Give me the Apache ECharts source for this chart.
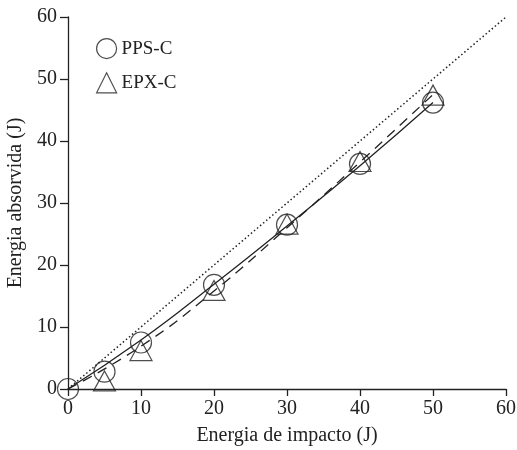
<!DOCTYPE html>
<html lang="es">
<head>
    <meta charset="UTF-8">
    <title>Energia absorvida</title>
    <script src="https://cdn.jsdelivr.net/npm/echarts@6/dist/echarts.min.js"></script>
    <style>
        body { margin: 0; background: #fff; }
        #chart { width: 517px; height: 450px; }
    </style>
</head>
<body>
    <div id="chart"></div>
    <script>
        // valores
        const impacto = [0, 5, 10, 20, 30, 40, 50];
        const ppsC = [0, 2.8, 7.5, 16.8, 26.5, 36.3, 46.2];
        const epxC = [-0.6, 1.3, 6.2, 15.9, 26.6, 36.7, 47.4];

        // curvas de ajuste
        const ajusteX = [0, 10, 20, 30, 40, 50];
        const ajustePPS = [0, 7.9, 16.9, 26.3, 36.0, 46.2];
        const ajusteEPX = [0, 6.9, 15.8, 26.0, 36.6, 47.5];
        const identidad = [[0, 0], [60, 60]];

        const pares = (xs, ys) => xs.map((x, i) => [x, ys[i]]);

        const font = 'Liberation Serif';
        const chart = echarts.init(document.getElementById('chart'));
        chart.setOption({
            animation: false,
            grid: { left: 68, right: 11, top: 17, bottom: 61, outerBoundsMode: 'none' },
            legend: {
                orient: 'vertical',
                left: 91,
                top: 33,
                itemGap: 13,
                itemWidth: 20,
                itemHeight: 20,
                textStyle: { fontFamily: font, fontSize: 19, color: '#222' },
                data: [
                    { name: 'PPS-C', icon: 'circle', itemStyle: { color: 'transparent', borderColor: '#222', borderWidth: 1.2 } },
                    { name: 'EPX-C', icon: 'triangle', itemStyle: { color: 'transparent', borderColor: '#222', borderWidth: 1.2 } }
                ]
            },
            xAxis: {
                type: 'value',
                min: 0, max: 60, interval: 10,
                name: 'Energia de impacto (J)',
                nameLocation: 'middle',
                nameGap: 37,
                nameTextStyle: { fontFamily: font, fontSize: 20, color: '#222' },
                axisLine: { lineStyle: { color: '#222', width: 1.3 } },
                axisTick: { length: 7, lineStyle: { color: '#222', width: 1.3 } },
                axisLabel: { fontFamily: font, fontSize: 20, color: '#222', margin: 10 },
                splitLine: { show: false }
            },
            yAxis: {
                type: 'value',
                min: 0, max: 60, interval: 10,
                name: 'Energia absorvida (J)',
                nameLocation: 'middle',
                nameGap: 41,
                nameTextStyle: { fontFamily: font, fontSize: 20, color: '#222' },
                axisLine: { show: true, lineStyle: { color: '#222', width: 1.3 } },
                axisTick: { show: true, length: 8, lineStyle: { color: '#222', width: 1.3 } },
                axisLabel: { fontFamily: font, fontSize: 20, color: '#222', margin: 11 },
                splitLine: { show: false }
            },
            series: [
                {
                    name: 'identidad',
                    type: 'line',
                    data: identidad,
                    symbol: 'none',
                    lineStyle: { color: '#222', width: 1.5, type: [1.5, 2.5] },
                    z: 1
                },
                {
                    name: 'ajuste PPS',
                    type: 'line',
                    data: pares(ajusteX, ajustePPS),
                    smooth: true,
                    symbol: 'none',
                    lineStyle: { color: '#222', width: 1.3 },
                    z: 2
                },
                {
                    name: 'ajuste EPX',
                    type: 'line',
                    data: pares(ajusteX, ajusteEPX),
                    smooth: true,
                    symbol: 'none',
                    lineStyle: { color: '#222', width: 1.3, type: [10, 7] },
                    z: 2
                },
                {
                    name: 'PPS-C',
                    type: 'scatter',
                    data: pares(impacto, ppsC),
                    symbol: 'circle',
                    symbolSize: 21,
                    itemStyle: { color: 'transparent', borderColor: '#222', borderWidth: 1.2 },
                    z: 3
                },
                {
                    name: 'EPX-C',
                    type: 'scatter',
                    data: pares(impacto, epxC),
                    symbol: 'triangle',
                    symbolSize: [22, 20],
                    itemStyle: { color: 'transparent', borderColor: '#222', borderWidth: 1.2 },
                    z: 3
                }
            ]
        });
    </script>
</body>
</html>
